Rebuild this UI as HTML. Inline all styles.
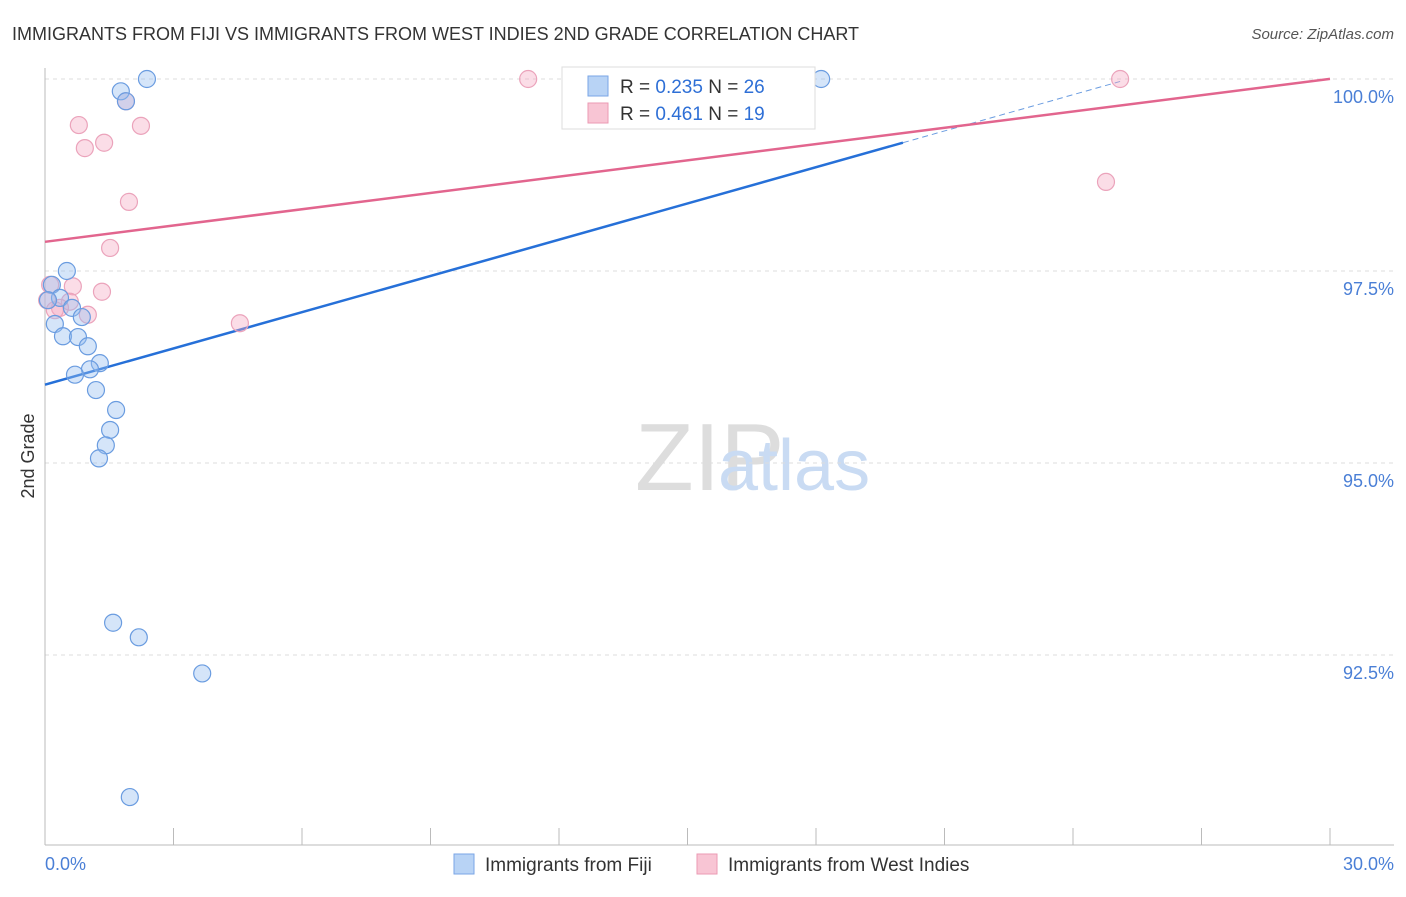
<!DOCTYPE html>
<html><head><meta charset="utf-8"><style>
body{margin:0;background:#fff;font-family:"Liberation Sans",sans-serif;}
svg text{font-family:"Liberation Sans",sans-serif;}
</style></head><body>
<svg width="1406" height="892" id="c">
<text x="12" y="40" font-size="18" fill="#333">IMMIGRANTS FROM FIJI VS IMMIGRANTS FROM WEST INDIES 2ND GRADE CORRELATION CHART</text>
<text x="1394" y="39" font-size="15" fill="#555" font-style="italic" text-anchor="end">Source: ZipAtlas.com</text>
<text x="635" y="490" font-size="96" fill="#ddd" font-family="Liberation Serif">ZIP</text>
<text x="718" y="490" font-size="72" fill="#c9dbf3">atlas</text>
<g id="grid"></g><g id="axes"></g><g id="lines"></g><g id="pts"></g>
<text transform="translate(34,456) rotate(-90)" font-size="18" fill="#333" text-anchor="middle">2nd Grade</text>
<text x="45" y="870" font-size="18" fill="#4a7fd6">0.0%</text>
<text x="1394" y="870" font-size="18" fill="#4a7fd6" text-anchor="end">30.0%</text>
<g>
<rect x="562" y="67" width="253" height="62" fill="#fff" stroke="#ddd"/>
<rect x="588" y="76" width="20" height="20" fill="#b8d3f5" stroke="#7aa6e6"/>
<text x="620" y="93" font-size="19" fill="#333">R = <tspan fill="#2e6fd6">0.235</tspan>   N = <tspan fill="#2e6fd6">26</tspan></text>
<rect x="588" y="103" width="20" height="20" fill="#f8c5d4" stroke="#eb9ab3"/>
<text x="620" y="120" font-size="19" fill="#333">R = <tspan fill="#2e6fd6">0.461</tspan>   N = <tspan fill="#2e6fd6">19</tspan></text>
</g>
<g>
<rect x="454" y="854" width="20" height="20" fill="#b8d3f5" stroke="#7aa6e6"/>
<text x="485" y="871" font-size="19" fill="#333">Immigrants from Fiji</text>
<rect x="697" y="854" width="20" height="20" fill="#f8c5d4" stroke="#eb9ab3"/>
<text x="728" y="871" font-size="19" fill="#333">Immigrants from West Indies</text>
</g>
</svg>
<script>
const yTicks=[100,97.5,95,92.5];
const yTickLabels=["100.0%","97.5%","95.0%","92.5%"];
const fijiX=[2.38,1.77,1.89,18.12,0.51,0.16,0.35,0.63,0.23,0.42,0.77,0.86,1.00,1.28,1.05,0.70,1.19,1.66,1.52,1.42,1.26,1.59,2.19,3.67,1.98,0.07];
const fijiY=[100,99.84,99.71,100,97.50,97.32,97.15,97.02,96.81,96.65,96.64,96.90,96.52,96.30,96.22,96.15,95.95,95.69,95.43,95.23,95.06,92.92,92.73,92.26,90.65,97.12];
const wiX=[11.28,25.10,1.89,0.79,2.24,0.93,1.38,1.96,1.52,24.77,0.65,1.33,0.58,0.35,1.00,4.55,0.12,0.05,0.23];
const wiY=[100,100,99.71,99.40,99.39,99.10,99.17,98.40,97.80,98.66,97.30,97.23,97.10,97.02,96.93,96.82,97.32,97.12,96.99];
const fijiFit=[96.02,0.1573]; const wiFit=[97.88,0.0707];
const X=v=>45+v/30*1285, Y=v=>79+(100-v)/2.5*192;
const NS="http://www.w3.org/2000/svg";
function mk(t,a,p){const e=document.createElementNS(NS,t);for(const k in a)e.setAttribute(k,a[k]);document.getElementById(p).appendChild(e);return e;}
yTicks.forEach((t,i)=>{
 const l=mk('line',{x1:45,x2:1394,y1:Y(t),y2:Y(t),stroke:'#ddd','stroke-dasharray':'4,4'},'grid');
 
 
 const tx=mk('text',{x:1394,y:Y(t)+24,'font-size':18,fill:'#4a7fd6','text-anchor':'end'},'grid');tx.textContent=yTickLabels[i];
 
 
});
const ax=mk('line',{x1:45,x2:45,y1:68,y2:845,stroke:'#bbb'},'axes');


const bx=mk('line',{x1:45,x2:1394,y1:845,y2:845,stroke:'#bbb'},'axes');


for(let i=1;i<=10;i++){const t=mk('line',{x1:X(i*3),x2:X(i*3),y1:828,y2:845,stroke:'#bbb'},'axes');
 
 }
const f1=mk('line',{x1:X(0),y1:Y(fijiFit[0]),x2:X(20.03),y2:Y(fijiFit[0]+fijiFit[1]*20.03),stroke:'#2670d8','stroke-width':2.5},'lines');


const f2=mk('line',{x1:X(20.03),y1:Y(fijiFit[0]+fijiFit[1]*20.03),x2:X(25.1),y2:Y(fijiFit[0]+fijiFit[1]*25.1),stroke:'#6a9ce0','stroke-width':1,'stroke-dasharray':'6,4'},'lines');


const w1=mk('line',{x1:X(0),y1:Y(wiFit[0]),x2:X(30),y2:Y(wiFit[0]+wiFit[1]*30),stroke:'#e2658e','stroke-width':2.5},'lines');


wiX.forEach((x,i)=>{const c=mk('circle',{cx:X(x),cy:Y(wiY[i]),r:8.5,fill:'rgba(244,170,195,0.4)',stroke:'#eba3bb','stroke-width':1.2},'pts');
 
 });
fijiX.forEach((x,i)=>{const c=mk('circle',{cx:X(x),cy:Y(fijiY[i]),r:8.5,fill:'rgba(150,190,240,0.4)',stroke:'#6a9ce0','stroke-width':1.2},'pts');
 
 });
</script>
</body></html>
